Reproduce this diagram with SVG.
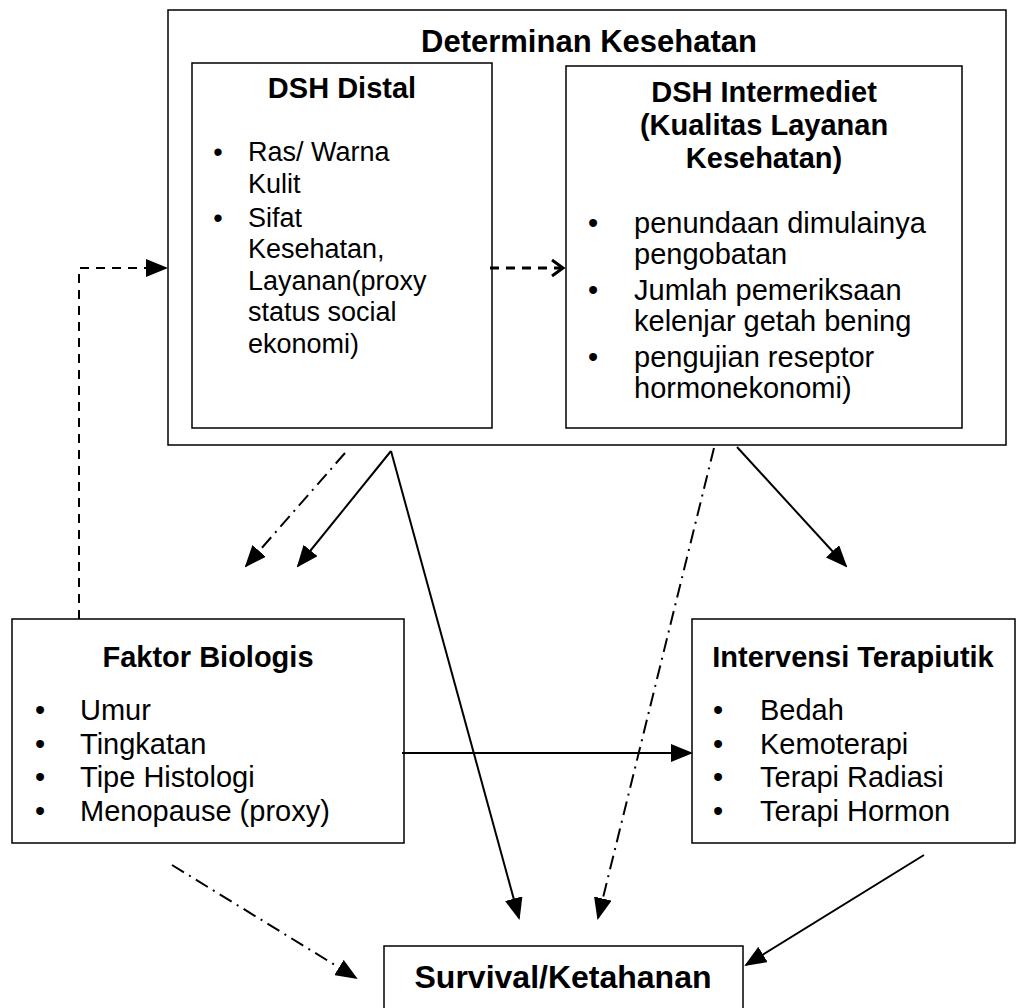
<svg xmlns="http://www.w3.org/2000/svg" width="1017" height="1008" viewBox="0 0 1017 1008">
<defs>
<style>
.box{fill:#fff;stroke:#000;stroke-width:1.5}
.t{font-family:"Liberation Sans",Arial,sans-serif;font-size:27px;fill:#000}
.m{font-size:29px}
.b{font-weight:bold;font-size:29px}
.c{text-anchor:middle}
.ln{fill:none;stroke:#000;stroke-width:2}
.dash{stroke-dasharray:9 7}
.dd{stroke-dasharray:14 6 2 6}
</style>
<marker id="ah" markerWidth="22" markerHeight="18" refX="20" refY="9" orient="auto" markerUnits="userSpaceOnUse">
<path d="M0,0 L22,9 L0,18 Z" fill="#000"/>
</marker>
<marker id="open" markerWidth="16" markerHeight="20" refX="13" refY="10" orient="auto" markerUnits="userSpaceOnUse">
<path d="M2,2 L13,10 L2,18" fill="none" stroke="#000" stroke-width="3"/>
</marker>
</defs>
<rect width="1017" height="1008" fill="#fff"/>
<g id="determinan">
<rect class="box" x="168" y="10" width="838" height="435"/>
<text class="t b c" x="589" y="52" style="font-size:31px">Determinan Kesehatan</text>
</g>
<g id="dsh-distal">
<rect class="box" x="192" y="63" width="300" height="365"/>
<text class="t b c" x="342" y="98">DSH Distal</text>
<text class="t" x="218" y="161" text-anchor="middle">•</text>
<text class="t" x="248" y="161">Ras/ Warna</text>
<text class="t" x="248" y="193">Kulit</text>
<text class="t" x="218" y="227" text-anchor="middle">•</text>
<text class="t" x="248" y="227">Sifat</text>
<text class="t" x="248" y="258">Kesehatan,</text>
<text class="t" x="248" y="290">Layanan(proxy</text>
<text class="t" x="248" y="321">status social</text>
<text class="t" x="248" y="353">ekonomi)</text>
</g>
<g id="dsh-intermediet">
<rect class="box" x="566" y="66" width="396" height="362"/>
<text class="t b c" x="764" y="102">DSH Intermediet</text>
<text class="t b c" x="764" y="135">(Kualitas Layanan</text>
<text class="t b c" x="764" y="168">Kesehatan)</text>
<text class="t m" x="593" y="233" text-anchor="middle">•</text>
<text class="t m" x="634" y="233">penundaan dimulainya</text>
<text class="t m" x="634" y="264">pengobatan</text>
<text class="t m" x="593" y="300" text-anchor="middle">•</text>
<text class="t m" x="634" y="300">Jumlah pemeriksaan</text>
<text class="t m" x="634" y="331">kelenjar getah bening</text>
<text class="t m" x="593" y="367" text-anchor="middle">•</text>
<text class="t m" x="634" y="367">pengujian reseptor</text>
<text class="t m" x="634" y="398">hormonekonomi)</text>
</g>
<g id="faktor-biologis">
<rect class="box" x="12" y="619" width="392" height="224"/>
<text class="t b c" x="208" y="667">Faktor Biologis</text>
<text class="t m" x="40" y="720" text-anchor="middle">•</text>
<text class="t m" x="80" y="720">Umur</text>
<text class="t m" x="40" y="754" text-anchor="middle">•</text>
<text class="t m" x="80" y="754">Tingkatan</text>
<text class="t m" x="40" y="787" text-anchor="middle">•</text>
<text class="t m" x="80" y="787">Tipe Histologi</text>
<text class="t m" x="40" y="821" text-anchor="middle">•</text>
<text class="t m" x="80" y="821">Menopause (proxy)</text>
</g>
<g id="intervensi">
<rect class="box" x="692" y="619" width="323" height="224"/>
<text class="t b c" x="853" y="667">Intervensi Terapiutik</text>
<text class="t m" x="718" y="720" text-anchor="middle">•</text>
<text class="t m" x="760" y="720">Bedah</text>
<text class="t m" x="718" y="754" text-anchor="middle">•</text>
<text class="t m" x="760" y="754">Kemoterapi</text>
<text class="t m" x="718" y="787" text-anchor="middle">•</text>
<text class="t m" x="760" y="787">Terapi Radiasi</text>
<text class="t m" x="718" y="821" text-anchor="middle">•</text>
<text class="t m" x="760" y="821">Terapi Hormon</text>
</g>
<g id="survival">
<rect class="box" x="384" y="946" width="359" height="80"/>
<text class="t b c" x="563" y="988" style="font-size:32px">Survival/Ketahanan</text>
</g>
<g id="connectors">
<path class="ln dash" d="M79,619 V268 H166" marker-end="url(#ah)"/>
<path class="ln dash" d="M490,268 H563" style="stroke-width:3" marker-end="url(#open)"/>
<path class="ln dd" d="M345,453 L246,566" marker-end="url(#ah)"/>
<path class="ln" d="M391,451 L298,566" marker-end="url(#ah)"/>
<path class="ln" d="M391,451 L519,918" marker-end="url(#ah)"/>
<path class="ln dd" d="M714,448 L598,918" marker-end="url(#ah)"/>
<path class="ln" d="M737,447 L846,566" marker-end="url(#ah)"/>
<path class="ln" d="M402,753 L691,753" marker-end="url(#ah)"/>
<path class="ln dd" d="M172,865 L356,978" marker-end="url(#ah)"/>
<path class="ln" d="M924,855 L746,965" marker-end="url(#ah)"/>
</g>
</svg>
